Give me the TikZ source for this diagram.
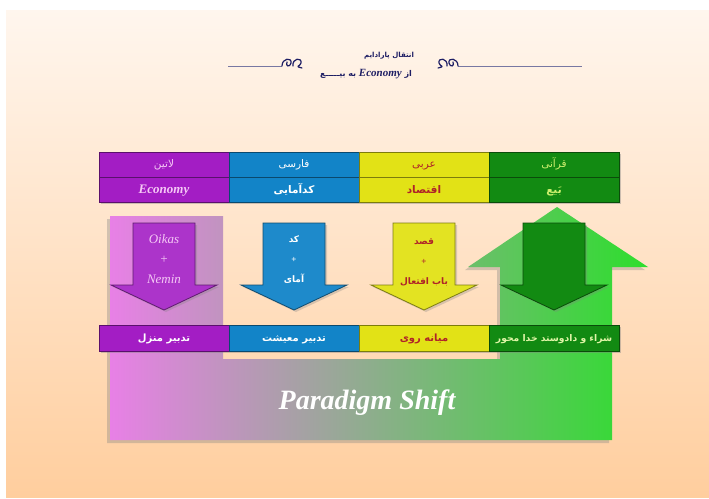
\documentclass[tikz,border=0pt]{standalone}
\usepackage{xcolor}
\usepackage{fontspec}
\setmainfont{Liberation Serif}
\newfontfamily\arabicfont[Script=Arabic]{DejaVu Sans}
\TeXXeTstate=1
\usepackage{tikz}
\usetikzlibrary{shadows}
\definecolor{latinpurple}{RGB}{163, 29, 196}
\definecolor{farsiblue}{RGB}{18, 132, 200}
\definecolor{arabicyellow}{RGB}{226, 226, 22}
\definecolor{quranigreen}{RGB}{18, 138, 18}
\definecolor{bgtop}{RGB}{255, 246, 238}
\definecolor{bgbottom}{RGB}{255, 206, 158}
\definecolor{shiftpink}{RGB}{232, 128, 230}
\definecolor{shiftgray}{RGB}{168, 160, 166}
\definecolor{shiftgreen}{RGB}{45, 222, 45}
\definecolor{headnavy}{RGB}{30, 30, 100}
\definecolor{latinpink}{RGB}{245, 200, 245}
\definecolor{yellowtext}{RGB}{175, 35, 40}
\definecolor{greentext}{RGB}{205, 240, 110}

\newcommand{\fatext}[1]{{\arabicfont\beginR #1\endR}}
% block arrow pointing down, centred on a column
\newcommand{\colarrow}[2]{%
  \path[arrowbody, fill=#2, draw=#2!55!black]
    (#1-31,223) -- (#1+31,223) -- (#1+31,285) -- (#1+53,285)
    -- (#1,310) -- (#1-53,285) -- (#1-31,285) -- cycle;
}

\tikzset{
  cell/.style={draw=#1!55!black, fill=#1, line width=0.9pt,
    minimum width=130pt, minimum height=25pt, inner sep=0pt,
    text height=7.5pt, text depth=1.5pt,
    drop shadow={shadow xshift=1.5pt, shadow yshift=-1.5pt, opacity=0.4}},
  arrowbody/.style={line width=0.8pt,
    drop shadow={shadow xshift=2pt, shadow yshift=-2pt, opacity=0.3}},
  titleline/.style={draw=headnavy!60, line width=0.6pt},
  curl/.style={draw=headnavy, line width=1.2pt, line cap=round},
  headfont/.style={font=\fontsize{10.5}{12}\selectfont},
  wordfont/.style={font=\bfseries\fontsize{10.5}{12}\selectfont},
  meanfont/.style={font=\bfseries\fontsize{10}{12}\selectfont},
  arrowtext/.style={align=center, font=\bfseries\fontsize{9}{20}\selectfont}
}

\begin{document}
\begin{tikzpicture}[x=1pt, y=-1pt]
    \useasboundingbox (0,0) rectangle (709,498);
    % Background
    \fill[white] (0,0) rectangle (709,498);
    \shade[top color=bgtop, bottom color=bgbottom] (6,10) rectangle (709,497);

    % Title with ornaments
    \draw[titleline] (228,66) -- (282,66);
    \draw[titleline] (458,66) -- (582,66);
    \draw[curl] (282,66) .. controls (282,58) and (292,57) .. (291,63)
      .. controls (290,68) and (285,66) .. (287,62);
    \draw[curl] (293,66) .. controls (292,58) and (302,57) .. (301,63)
      .. controls (300,67) and (294,66) .. (302,68);
    \draw[curl] (458,66) .. controls (458,58) and (448,57) .. (449,63)
      .. controls (450,68) and (455,66) .. (453,62);
    \draw[curl] (447,66) .. controls (448,58) and (438,57) .. (439,63)
      .. controls (440,67) and (446,66) .. (438,68);
    \node[text=headnavy, font=\bfseries\fontsize{7}{8}\selectfont] (title) at (389,56)
      {\fatext{انتقال پارادایم}};
    \node[text=headnavy, font=\bfseries\fontsize{8}{9}\selectfont] (subtitle) at (366,74)
      {\fatext{از \beginL{\normalfont\bfseries\itshape\fontsize{11}{12}\selectfont Economy}\endL{} به بیـــــع}};

    % Paradigm shift band with the big up arrow
    \shade[left color=shiftpink, middle color=shiftgray, right color=shiftgreen,
      drop shadow={shadow xshift=-3pt, shadow yshift=-3pt, opacity=0.35}]
      (110,216) -- (223,216) -- (223,359) -- (500,359) -- (500,267) -- (468,267)
      -- (557,207) -- (648,267) -- (612,267) -- (612,440) -- (110,440) -- cycle;
    \node[text=white, font=\bfseries\itshape\fontsize{28}{30}\selectfont] (shift) at (367,403) {Paradigm Shift};

    % Table head: language
    \node[cell=latinpurple, text=latinpink, headfont] (latin) at (164,164.5) {\fatext{لاتین}};
    \node[cell=farsiblue, text=white, headfont] (farsi) at (294,164.5) {\fatext{فارسی}};
    \node[cell=arabicyellow, text=yellowtext, headfont] (arabic) at (424,164.5) {\fatext{عربی}};
    \node[cell=quranigreen, text=greentext, headfont] (qurani) at (554,164.5) {\fatext{قرآنی}};

    % Table head: word
    \node[cell=latinpurple, text=latinpink, font=\bfseries\itshape\fontsize{13}{14}\selectfont] (latinword) at (164,190) {Economy};
    \node[cell=farsiblue, text=white, wordfont] (farsiword) at (294,190) {\fatext{کدآمایی}};
    \node[cell=arabicyellow, text=yellowtext, wordfont] (arabicword) at (424,190) {\fatext{اقتصاد}};
    \node[cell=quranigreen, text=greentext, wordfont] (quraniword) at (554,190) {\fatext{بَیع}};

    % Down arrows
    \colarrow{164}{latinpurple!90!white}
    \colarrow{294}{farsiblue!95!white}
    \colarrow{424}{arabicyellow!95!white}
    \colarrow{554}{quranigreen}
    \node[arrowtext, text=latinpink, font=\itshape\fontsize{13}{20}\selectfont] (latinroot) at (164,259) {Oikas\\+\\Nemin};
    \node[arrowtext, text=white] (farsiroot) at (294,260) {\fatext{کد}\\+\\\fatext{آمای}};
    \node[arrowtext, text=yellowtext] (arabicroot) at (424,262) {\fatext{قصد}\\+\\\fatext{باب افتعال}};

    % Meaning row
    \node[cell=latinpurple, text=white, meanfont, minimum height=26pt] (latinmean) at (164,338) {\fatext{تدبیر منزل}};
    \node[cell=farsiblue, text=white, meanfont, minimum height=26pt] (farsimean) at (294,338) {\fatext{تدبیر معیشت}};
    \node[cell=arabicyellow, text=yellowtext, meanfont, minimum height=26pt] (arabicmean) at (424,338) {\fatext{میانه روی}};
    \node[cell=quranigreen, text=greentext!60!white, meanfont, font=\bfseries\fontsize{9.2}{11}\selectfont, minimum height=26pt] (quranimean) at (554,338) {\fatext{شراء و دادوستد خدا محور}};
\end{tikzpicture}
\end{document}
